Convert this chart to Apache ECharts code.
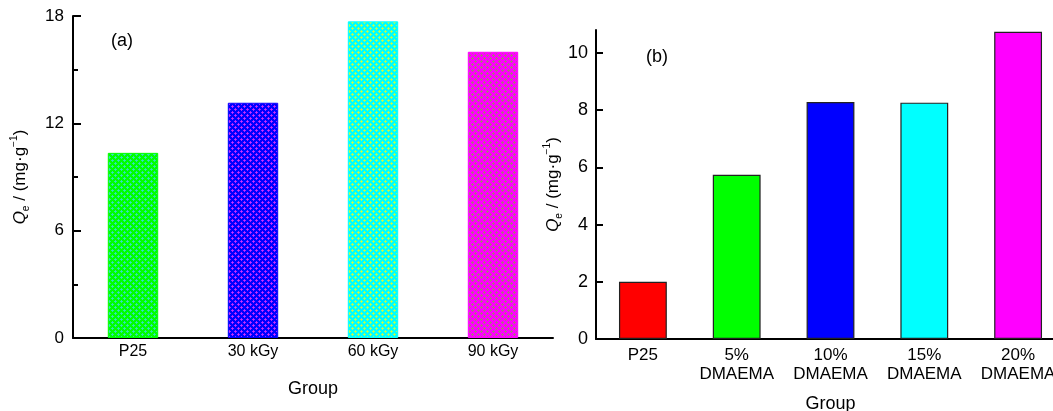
<!DOCTYPE html>
<html>
<head>
<meta charset="utf-8">
<script src="https://cdn.jsdelivr.net/npm/echarts@6/dist/echarts.min.js"></script>
<style>html,body{margin:0;padding:0;background:#fff;}#c{width:1053px;height:411px;}</style>
</head>
<body>
<div id="c"></div>
<script>
const leftCategories = ['P25', '30 kGy', '60 kGy', '90 kGy'];
const leftValues = [10.35, 13.15, 17.7, 16.0];
const leftTicks = [0, 6, 12, 18];

const rightCategories = ['P25', '5%\nDMAEMA', '10%\nDMAEMA', '15%\nDMAEMA', '20%\nDMAEMA'];
const rightValues = [2.0, 5.74, 8.28, 8.26, 10.74];
const rightTicks = [0, 2, 4, 6, 8, 10];

const leftBase = ['#00ff00', '#0000ff', '#00ffff', '#ff00ff'];
const leftDots = ['#33e0c8', '#d030ff', '#c8ff40', '#a08070'];
const rightColors = ['#ff0000', '#00ff00', '#0000ff', '#00ffff', '#ff00ff'];

function pattern(bg, dot) {
  const c = document.createElement('canvas');
  c.width = 6; c.height = 6;
  const g = c.getContext('2d');
  g.fillStyle = bg; g.fillRect(0, 0, 6, 6);
  [[1, 1], [4, 4]].forEach(([x, y]) => {
    g.globalAlpha = 0.8; g.fillStyle = dot;
    g.fillRect(x - 1, y, 3, 1); g.fillRect(x, y - 1, 1, 3);
    g.globalAlpha = 1; g.fillRect(x, y, 1, 1);
  });
  return { image: c, repeat: 'repeat' };
}

const FONT = 'Liberation Sans';
const yName = '{q|Q}{sub|e}{n| / (mg·g}{sup|−1}{n|)}';
function yNameStyle(size) {
  return {
    fontFamily: FONT, color: '#000', fontSize: size,
    rich: {
      q: { fontFamily: FONT, fontStyle: 'italic', fontSize: size, color: '#000', lineHeight: 22 },
      sub: { fontFamily: FONT, fontSize: size * 0.6, color: '#000', verticalAlign: 'bottom', lineHeight: 12 },
      sup: { fontFamily: FONT, fontSize: size * 0.6, color: '#000', verticalAlign: 'top', lineHeight: 12 },
      n: { fontFamily: FONT, fontSize: size, color: '#000', lineHeight: 22 }
    }
  };
}

const axisLine = { show: true, lineStyle: { color: '#000', width: 2 } };

const option = {
  animation: false,
  backgroundColor: '#fff',
  title: [
    { text: '(a)', left: 106, top: 27, textStyle: { fontFamily: FONT, fontWeight: 'normal', fontSize: 18, color: '#000' } },
    { text: '(b)', left: 641, top: 43, textStyle: { fontFamily: FONT, fontWeight: 'normal', fontSize: 18, color: '#000' } }
  ],
  grid: [
    { left: 73, top: 16, width: 480, height: 322, outerBoundsMode: 'none', containLabel: false },
    { left: 596, top: 30, width: 469, height: 309, outerBoundsMode: 'none', containLabel: false }
  ],
  xAxis: [
    {
      gridIndex: 0, type: 'category', data: leftCategories,
      axisLine: axisLine, axisTick: { show: false },
      axisLabel: { fontFamily: FONT, fontSize: 16, color: '#000', margin: 6, interval: 0 },
      name: 'Group', nameLocation: 'middle', nameGap: 42,
      nameTextStyle: { fontFamily: FONT, fontSize: 18, color: '#000' }
    },
    {
      gridIndex: 1, type: 'category', data: rightCategories,
      axisLine: axisLine, axisTick: { show: false },
      axisLabel: { fontFamily: FONT, fontSize: 17, color: '#000', margin: 7, lineHeight: 19, interval: 0 },
      name: 'Group', nameLocation: 'middle', nameGap: 56,
      nameTextStyle: { fontFamily: FONT, fontSize: 18, color: '#000' }
    }
  ],
  yAxis: [
    {
      gridIndex: 0, type: 'value', min: 0, max: 18, interval: 6,
      axisLine: axisLine,
      axisTick: { show: true, inside: true, length: 8, lineStyle: { color: '#000', width: 2 } },
      minorTick: { show: true, splitNumber: 2, length: 5, lineStyle: { color: '#000', width: 2 } },
      splitLine: { show: false },
      axisLabel: { fontFamily: FONT, fontSize: 17, color: '#000', margin: 9 },
      name: yName, nameLocation: 'middle', nameRotate: 90, nameGap: 42,
      nameTextStyle: yNameStyle(17)
    },
    {
      gridIndex: 1, type: 'value', min: 0, max: 10.8, interval: 2,
      axisLine: axisLine,
      axisTick: { show: true, inside: true, length: 7, lineStyle: { color: '#000', width: 2 }, customValues: rightTicks },
      splitLine: { show: false },
      axisLabel: { fontFamily: FONT, fontSize: 18, color: '#000', margin: 8, customValues: rightTicks },
      name: yName, nameLocation: 'middle', nameRotate: 90, nameGap: 32,
      nameTextStyle: yNameStyle(17)
    }
  ],
  series: [
    {
      type: 'bar', xAxisIndex: 0, yAxisIndex: 0, barWidth: '42%',
      data: leftValues.map((v, i) => ({
        value: v,
        itemStyle: { color: pattern(leftBase[i], leftDots[i]), borderColor: leftBase[i], borderWidth: 1 }
      }))
    },
    {
      type: 'bar', xAxisIndex: 1, yAxisIndex: 1, barWidth: '51%',
      data: rightValues.map((v, i) => ({
        value: v,
        itemStyle: { color: rightColors[i], borderColor: '#222', borderWidth: 1.2 }
      }))
    }
  ]
};

const chart = echarts.init(document.getElementById('c'), null, { renderer: 'canvas' });
chart.setOption(option);
</script>
</body>
</html>
